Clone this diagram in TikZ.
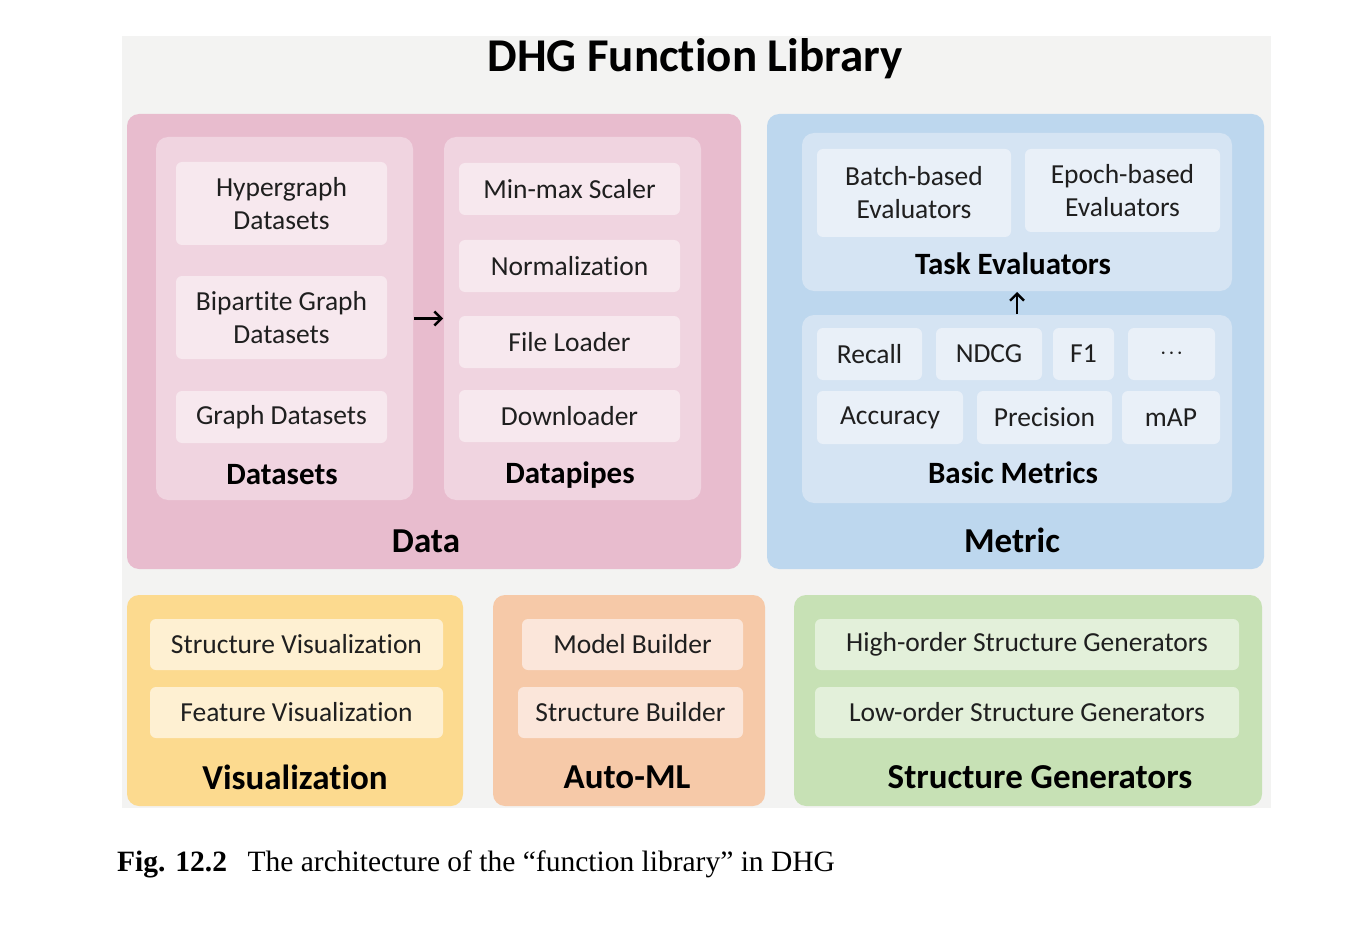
\documentclass[tikz,border=0pt]{standalone}
\usepackage{fontspec}
\setmainfont{Carlito}[Ligatures={NoCommon,NoRare}]
\newfontfamily\capfont{Liberation Serif}
\usetikzlibrary{arrows.meta}
\definecolor{bgc}{HTML}{F3F3F2}
\definecolor{dataO}{HTML}{E8BCCE}
\definecolor{dataI}{HTML}{F0D4E0}
\definecolor{dataB}{HTML}{F7E8EE}
\definecolor{metO}{HTML}{BDD7EE}
\definecolor{metI}{HTML}{D5E4F3}
\definecolor{metB}{HTML}{E9F0F8}
\definecolor{visO}{HTML}{FCDA8F}
\definecolor{visB}{HTML}{FEF0D2}
\definecolor{autO}{HTML}{F6C9A8}
\definecolor{autB}{HTML}{FBE6DA}
\definecolor{sgO}{HTML}{C7E1B5}
\definecolor{sgB}{HTML}{E3F0DA}
\tikzset{
  panel/.style={rounded corners=12pt, inner sep=0pt, outer sep=0pt},
  item/.style={rounded corners=6pt, inner sep=0pt, outer sep=0pt, align=center,
    font=\fontsize{27.5}{33}\selectfont, text=black!88},
  lbl/.style={inner sep=0pt, font=\bfseries\fontsize{31}{36}\selectfont},
  biglbl/.style={inner sep=0pt, font=\bfseries\fontsize{35}{40}\selectfont},
  arr/.style={line width=2.4pt, shorten <=1pt, shorten >=1pt,
    -{Straight Barb[length=7pt,width=14pt,line width=2.4pt]}}
}
\newcommand{\itm}[7]{% fill, name, x1,y1,x2,y2, text
  \node[item, fill=#1, minimum width={#5-#3}, minimum height={#6-#4}] (#2) at ({(#3+#5)/2},{(#4+#6)/2}) {#7};}
\begin{document}
\begin{tikzpicture}[x=1pt,y=-1pt]
\useasboundingbox (0,0) rectangle (1347,952);
% background
\node[fill=bgc, inner sep=0pt, minimum width=1149, minimum height=772] (bg) at (696.5,422) {};
\node[inner sep=0pt, font=\bfseries\fontsize{47}{52}\selectfont] (title) at (695,59) {DHG Function Library};
% Data
\node[panel, fill=dataO, minimum width=614, minimum height=455] (data) at (434,341.5) {};
\node[panel, fill=dataI, minimum width=257, minimum height=363] (ds) at (284.5,318.5) {};
\node[panel, fill=dataI, minimum width=257, minimum height=363] (dp) at (572.5,318.5) {};
\itm{dataB}{hyp}{176}{162}{387}{245}{Hypergraph\\Datasets}
\itm{dataB}{bip}{176}{276}{387}{359}{Bipartite Graph\\Datasets}
\itm{dataB}{gra}{176}{391}{387}{443}{Graph Datasets}
\itm{dataB}{mms}{459}{163}{680}{215}{Min-max Scaler}
\itm{dataB}{nor}{459}{240}{680}{292}{Normalization}
\itm{dataB}{fil}{459}{316}{680}{368}{File Loader}
\itm{dataB}{dow}{459}{390}{680}{442}{Downloader}
\node[lbl] (dsl) at (282,475) {Datasets};
\node[lbl] (dpl) at (570,475) {Datapipes};
\node[biglbl] (datal) at (426,541) {Data};
\draw[arr] (ds.east) -- (dp.west);
% Metric
\node[panel, fill=metO, minimum width=497, minimum height=455] (met) at (1015.5,341.5) {};
\node[panel, fill=metI, minimum width=430, minimum height=158] (te) at (1017,212) {};
\node[panel, fill=metI, minimum width=430, minimum height=188] (bm) at (1017,409) {};
\itm{metB}{bat}{817}{149}{1011}{237}{Batch-based\\Evaluators}
\itm{metB}{epo}{1025}{149}{1220}{232}{Epoch-based\\Evaluators}
\node[lbl] (tel) at (1013,264) {Task Evaluators};
\itm{metB}{rec}{817}{328}{922}{380}{Recall}
\itm{metB}{ndc}{936}{328}{1042}{380}{NDCG}
\itm{metB}{fone}{1053}{328}{1114}{380}{F1}
\itm{metB}{dots}{1128}{328}{1215}{380}{$\cdot\!\cdot\!\cdot$}
\itm{metB}{acc}{817}{391}{963}{444}{Accuracy}
\itm{metB}{pre}{977}{391}{1112}{444}{Precision}
\itm{metB}{map}{1122}{391}{1220}{444}{mAP}
\node[lbl] (bml) at (1013,473) {Basic Metrics};
\node[biglbl] (metl) at (1012,540) {Metric};
\draw[arr] (bm.north) -- (te.south);
% Visualization
\node[panel, fill=visO, minimum width=336, minimum height=211] (vis) at (295,700.5) {};
\itm{visB}{sv}{150}{619}{443}{670}{Structure Visualization}
\itm{visB}{fv}{150}{687}{443}{738}{Feature Visualization}
\node[biglbl] (visl) at (295,777) {Visualization};
% Auto-ML
\node[panel, fill=autO, minimum width=272, minimum height=211] (aut) at (629,700.5) {};
\itm{autB}{mb}{522}{619}{743}{670}{Model Builder}
\itm{autB}{sb}{518}{687}{743}{738}{Structure Builder}
\node[biglbl] (autl) at (627,777) {Auto-ML};
% Structure Generators
\node[panel, fill=sgO, minimum width=468, minimum height=211] (sg) at (1028,700.5) {};
\itm{sgB}{hos}{815}{619}{1239}{670}{High-order Structure Generators}
\itm{sgB}{los}{815}{687}{1239}{738}{Low-order Structure Generators}
\node[biglbl] (sgl) at (1040,777) {Structure Generators};
% caption
\node[anchor=west, inner sep=0pt, font=\capfont\fontsize{29.5}{34}\selectfont] (cap) at (117,864) {\textbf{Fig. 12.2}\hspace{0.7em}The architecture of the “function library” in DHG};
\end{tikzpicture}
\end{document}
